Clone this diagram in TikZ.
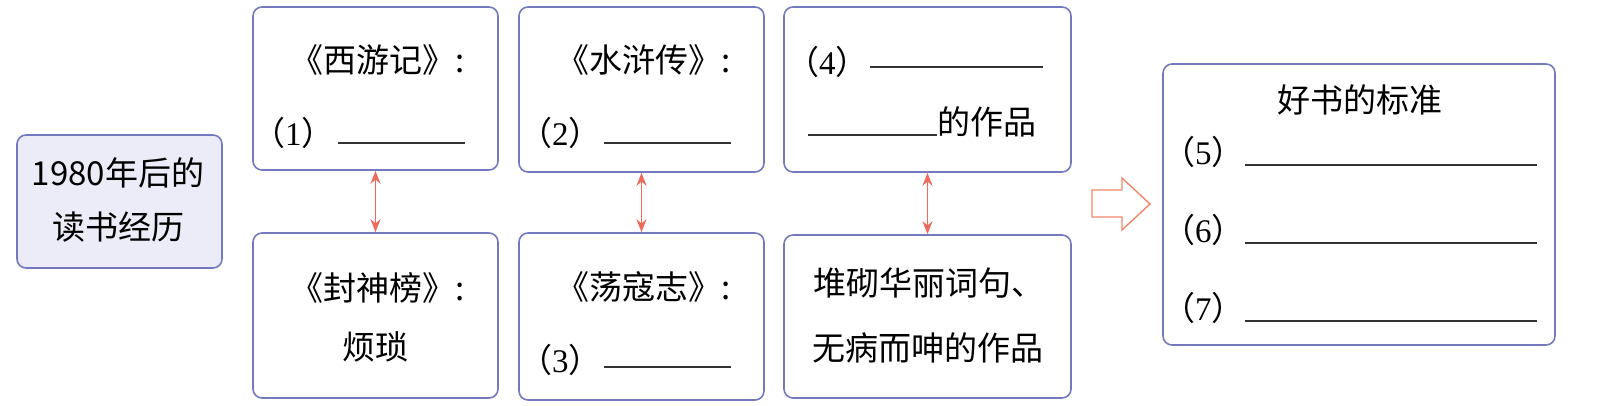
\documentclass[tikz,border=0pt]{standalone}
\usepackage{fontspec}
\setmainfont{Noto Sans CJK SC}
\newfontfamily\numfont{Liberation Serif}
\usetikzlibrary{arrows.meta}
\definecolor{boxline}{HTML}{7479BE}
\definecolor{boxfill}{HTML}{ECEBF8}
\definecolor{linkred}{HTML}{EE6B5C}
\definecolor{bigarrow}{HTML}{F0876A}
\tikzset{
  card/.style={draw=boxline, line width=1.6pt, rounded corners=9pt, inner sep=0pt},
  word/.style={inner sep=0pt, font=\fontsize{33}{40}\selectfont},
  blank/.style={line width=1.4pt, black!80},
  link/.style={{Stealth[length=13pt,width=10pt]}-{Stealth[length=13pt,width=10pt]}, linkred, line width=1.8pt}
}
\newcommand{\itemnum}[1]{（{\numfont #1}）}
\begin{document}
\begin{tikzpicture}[x=1pt,y=-1pt]
\useasboundingbox (0,0) rectangle (1597,406);

\node[card, fill=boxfill, minimum width=205pt, minimum height=133pt] (start) at (119.5,201.5) {};
\node[word] (startA) at (118,173) {1980年后的};
\node[word] (startB) at (118,227) {读书经历};

\node[card, minimum width=245pt, minimum height=163pt] (top1) at (375.5,88.5) {};
\node[card, minimum width=245pt, minimum height=165pt] (bot1) at (375.5,315.5) {};
\node[card, minimum width=245pt, minimum height=165pt] (top2) at (641.5,89.5) {};
\node[card, minimum width=245pt, minimum height=167pt] (bot2) at (641.5,316.5) {};
\node[card, minimum width=287pt, minimum height=165pt] (top3) at (927.5,89.5) {};
\node[card, minimum width=287pt, minimum height=163pt] (bot3) at (927.5,316.5) {};
\node[card, minimum width=392pt, minimum height=281pt] (goal) at (1359,204.5) {};

\draw[link] (top1.south) -- (bot1.north);
\draw[link] (top2.south) -- (bot2.north);
\draw[link] (top3.south) -- (bot3.north);

\node[word] (xiyou) at (378,60) {《西游记》:};
\node[word, anchor=west] (num1) at (252,133) {\itemnum{1}};
\draw[blank] (338,143) -- (465,143);
\node[word] (fengshen) at (378,288) {《封神榜》:};
\node[word] (fansuo) at (375,347) {烦琐};

\node[word] (shuihu) at (644,60) {《水浒传》:};
\node[word, anchor=west] (num2) at (519,133) {\itemnum{2}};
\draw[blank] (604,143) -- (731,143);
\node[word] (dangkou) at (644,287) {《荡寇志》:};
\node[word, anchor=west] (num3) at (519,360) {\itemnum{3}};
\draw[blank] (604,367) -- (731,367);

\node[word, anchor=west] (num4) at (786,62) {\itemnum{4}};
\draw[blank] (870,67) -- (1043,67);
\draw[blank] (808,135) -- (937,135);
\node[word, anchor=west] (zuopin) at (937,122) {的作品};
\node[word] (duiqi) at (929,283) {堆砌华丽词句、};
\node[word] (wubing) at (928,348) {无病而呻的作品};

\draw[bigarrow, line width=1.4pt] (1092,190) -- (1122,190) -- (1122,178) -- (1150,204)
  -- (1122,230) -- (1122,217) -- (1092,217) -- cycle;

\node[word] (standard) at (1360,100) {好书的标准};
\foreach \n/\y in {5/152, 6/230, 7/308} {
  \node[word, anchor=west] (num\n) at (1162,\y) {\itemnum{\n}};
  \draw[blank] (1245,\y+13) -- (1537,\y+13);
}
\end{tikzpicture}
\end{document}
